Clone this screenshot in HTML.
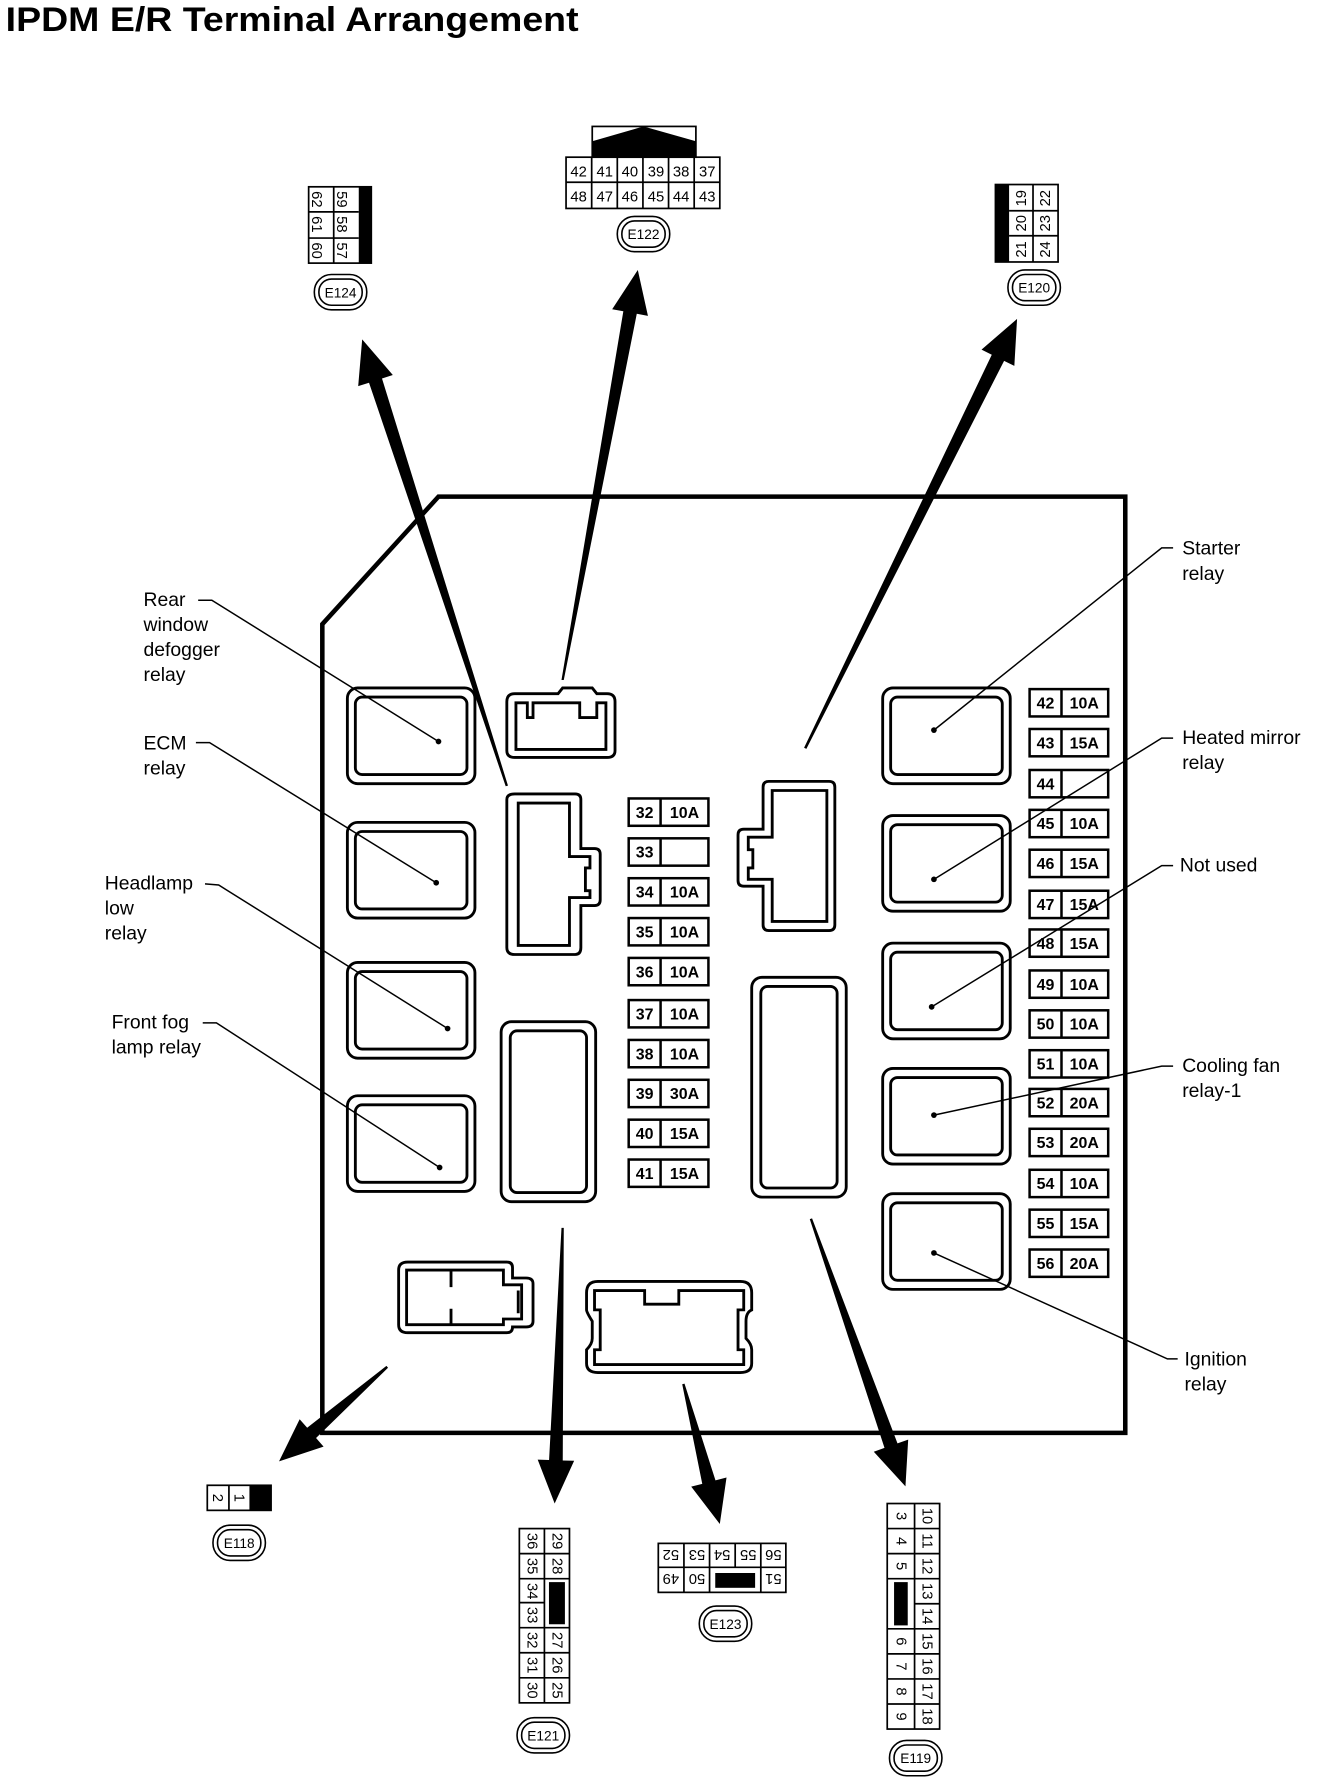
<!DOCTYPE html>
<html><head><meta charset="utf-8"><style>
html,body{margin:0;padding:0;background:#fff;}
svg{display:block;}
text{font-family:"Liberation Sans",sans-serif;fill:#000;}
.lb{font-size:17px;}
.fz{font-size:14px;font-weight:bold;text-anchor:middle;}
.cn{font-size:13px;text-anchor:middle;}
.el{font-size:12px;text-anchor:middle;}
</style></head><body>
<svg width="1328" height="1786" viewBox="0 0 1166 1568" preserveAspectRatio="none" xmlns="http://www.w3.org/2000/svg">
<text x="5" y="27" style="font-size:30px;font-weight:bold" textLength="503" lengthAdjust="spacingAndGlyphs">IPDM E/R Terminal Arrangement</text>

<path d="M385,436 H988 V1258 H283 V548 Z" fill="none" stroke="#000" stroke-width="4"/>

<g fill="none" stroke="#000">
<g stroke-width="2.5">
<rect x="305" y="604" width="112" height="84" rx="9"/><rect x="312" y="612" width="98" height="68" rx="6"/>
<rect x="305" y="722" width="112" height="84" rx="9"/><rect x="312" y="730" width="98" height="68" rx="6"/>
<rect x="305" y="845" width="112" height="84" rx="9"/><rect x="312" y="853" width="98" height="68" rx="6"/>
<rect x="305" y="962" width="112" height="84" rx="9"/><rect x="312" y="970" width="98" height="68" rx="6"/>
<rect x="775" y="604" width="112" height="84" rx="9"/><rect x="782" y="612" width="98" height="68" rx="6"/>
<rect x="775" y="716" width="112" height="84" rx="9"/><rect x="782" y="724" width="98" height="68" rx="6"/>
<rect x="775" y="828" width="112" height="84" rx="9"/><rect x="782" y="836" width="98" height="68" rx="6"/>
<rect x="775" y="938" width="112" height="84" rx="9"/><rect x="782" y="946" width="98" height="68" rx="6"/>
<rect x="775" y="1048" width="112" height="84" rx="9"/><rect x="782" y="1056" width="98" height="68" rx="6"/>
<rect x="440" y="897" width="83" height="158" rx="9"/><rect x="448" y="905" width="67" height="142" rx="6"/>
<rect x="660" y="858" width="83" height="193" rx="9"/><rect x="668" y="866" width="67" height="177" rx="6"/>
<path d="M452,609 H490 L494,604 H520 L524,609 H533 Q540,609 540,616 V659 Q540,665 533,665 H452 Q445,665 445,659 V616 Q445,609 452,609 Z"/>
<path d="M453,617 V658 H532 V617 H524 V630 H509 V617 H468 V630 H463 V617 Z"/>
<path d="M452,697 H505 Q510,697 510,702 V745 H522 Q527,745 527,750 V790 Q527,795 522,795 H510 V832 Q510,838 505,838 H452 Q445,838 445,832 V702 Q445,697 452,697 Z"/>
<path d="M455,705 H500 V752 H518 V762 H514 V782 H518 V788 H500 V830 H455 Z"/>
<path d="M675,686 H728 Q733,686 733,691 V812 Q733,817 728,817 H675 Q670,817 670,812 V778 H653 Q648,778 648,773 V733 Q648,728 653,728 H670 V691 Q670,686 675,686 Z"/>
<path d="M678,694 H726 V809 H678 V772 H657 V762 H661 V746 H657 V735 H678 Z"/>
<path d="M358,1108 H445 Q450,1108 450,1113 V1122 H462 Q468,1122 468,1127 V1160 Q468,1165 462,1165 H450 Q450,1170 445,1170 H358 Q350,1170 350,1163 V1115 Q350,1108 358,1108 Z"/>
<path d="M357,1115 H442 V1128 H458 V1158 H442 V1163 H357 Z"/>
<path d="M396,1116 V1130 M396,1149 V1163 M455,1133 V1153"/>
<path d="M525,1125 H650 Q660,1125 660,1135 V1150 Q655,1152 655,1160 V1175 Q660,1180 660,1185 V1197 Q660,1205 650,1205 H525 Q515,1205 515,1197 V1185 Q520,1180 520,1175 V1160 Q515,1152 515,1150 V1135 Q515,1125 525,1125 Z"/>
<path d="M522,1133 H566 V1145 H596 V1133 H653 V1150 H648 V1185 H653 V1198 H522 V1185 H527 V1150 H522 Z"/>
</g>

<g stroke-width="2.2">
<rect x="552" y="701" width="70" height="24"/><line x1="580" y1="701" x2="580" y2="725"/>
<rect x="552" y="736" width="70" height="24"/><line x1="580" y1="736" x2="580" y2="760"/>
<rect x="552" y="771" width="70" height="24"/><line x1="580" y1="771" x2="580" y2="795"/>
<rect x="552" y="806" width="70" height="24"/><line x1="580" y1="806" x2="580" y2="830"/>
<rect x="552" y="841" width="70" height="24"/><line x1="580" y1="841" x2="580" y2="865"/>
<rect x="552" y="878" width="70" height="24"/><line x1="580" y1="878" x2="580" y2="902"/>
<rect x="552" y="913" width="70" height="24"/><line x1="580" y1="913" x2="580" y2="937"/>
<rect x="552" y="948" width="70" height="24"/><line x1="580" y1="948" x2="580" y2="972"/>
<rect x="552" y="983" width="70" height="24"/><line x1="580" y1="983" x2="580" y2="1007"/>
<rect x="552" y="1018" width="70" height="24"/><line x1="580" y1="1018" x2="580" y2="1042"/>
<rect x="904" y="605" width="69" height="24"/><line x1="932" y1="605" x2="932" y2="629"/>
<rect x="904" y="640" width="69" height="24"/><line x1="932" y1="640" x2="932" y2="664"/>
<rect x="904" y="676" width="69" height="24"/><line x1="932" y1="676" x2="932" y2="700"/>
<rect x="904" y="711" width="69" height="24"/><line x1="932" y1="711" x2="932" y2="735"/>
<rect x="904" y="746" width="69" height="24"/><line x1="932" y1="746" x2="932" y2="770"/>
<rect x="904" y="782" width="69" height="24"/><line x1="932" y1="782" x2="932" y2="806"/>
<rect x="904" y="816" width="69" height="24"/><line x1="932" y1="816" x2="932" y2="840"/>
<rect x="904" y="852" width="69" height="24"/><line x1="932" y1="852" x2="932" y2="876"/>
<rect x="904" y="887" width="69" height="24"/><line x1="932" y1="887" x2="932" y2="911"/>
<rect x="904" y="922" width="69" height="24"/><line x1="932" y1="922" x2="932" y2="946"/>
<rect x="904" y="956" width="69" height="24"/><line x1="932" y1="956" x2="932" y2="980"/>
<rect x="904" y="991" width="69" height="24"/><line x1="932" y1="991" x2="932" y2="1015"/>
<rect x="904" y="1027" width="69" height="24"/><line x1="932" y1="1027" x2="932" y2="1051"/>
<rect x="904" y="1062" width="69" height="24"/><line x1="932" y1="1062" x2="932" y2="1086"/>
<rect x="904" y="1097" width="69" height="24"/><line x1="932" y1="1097" x2="932" y2="1121"/>
</g>

<g stroke-width="1.3">
<polyline points="174,527 186,527 385,651"/>
<polyline points="172,652 184,652 383,775"/>
<polyline points="180,776 192,777 393,903"/>
<polyline points="178,898 190,898 386,1025"/>
<polyline points="1030,481 1020,481 820,641"/>
<polyline points="1030,648 1020,648 820,772"/>
<polyline points="1030,760 1020,760 818,884"/>
<polyline points="1030,936 1020,936 820,979"/>
<polyline points="1034,1193 1025,1193 820,1100"/>
</g>
</g>

<g fill="#000">
<circle cx="385" cy="651" r="2.5"/><circle cx="383" cy="775" r="2.5"/><circle cx="393" cy="903" r="2.5"/><circle cx="386" cy="1025" r="2.5"/>
<circle cx="820" cy="641" r="2.5"/><circle cx="820" cy="772" r="2.5"/><circle cx="818" cy="884" r="2.5"/><circle cx="820" cy="979" r="2.5"/><circle cx="820" cy="1100" r="2.5"/>
<polygon points="444,690.3 324,336 314.5,339 318,298 344.9,329.2 335.4,332.3 446,689.7"/>
<polygon points="493,597 547.3,273.3 537.5,271.5 560,237 568.9,277.3 559.1,275.5 495,597"/>
<polygon points="706,656.5 870.8,311.4 861.8,307 893,280 890.6,321.2 881.6,316.8 708,657.5"/>
<polygon points="339.3,1199.2 269.7,1253.5 263.1,1246 245,1283 284.1,1270 277.5,1262.5 340.7,1200.8"/>
<polygon points="493,1078 482.1,1281.8 472.1,1281.5 487,1320 504.1,1282.5 494.1,1282.2 495,1078"/>
<polygon points="599,1215.3 616.6,1302.7 606.9,1305.2 632,1338 637.9,1297.2 628.2,1299.7 601,1214.7"/>
<polygon points="711,1070.3 776.6,1271.2 767.2,1274.5 795,1305 797.4,1263.9 788,1267.2 713,1069.7"/>
</g>

<g class="fz">
<text x="566" y="718" class="fz">32</text><text x="601" y="718" class="fz">10A</text>
<text x="566" y="753" class="fz">33</text>
<text x="566" y="788" class="fz">34</text><text x="601" y="788" class="fz">10A</text>
<text x="566" y="823" class="fz">35</text><text x="601" y="823" class="fz">10A</text>
<text x="566" y="858" class="fz">36</text><text x="601" y="858" class="fz">10A</text>
<text x="566" y="895" class="fz">37</text><text x="601" y="895" class="fz">10A</text>
<text x="566" y="930" class="fz">38</text><text x="601" y="930" class="fz">10A</text>
<text x="566" y="965" class="fz">39</text><text x="601" y="965" class="fz">30A</text>
<text x="566" y="1000" class="fz">40</text><text x="601" y="1000" class="fz">15A</text>
<text x="566" y="1035" class="fz">41</text><text x="601" y="1035" class="fz">15A</text>
<text x="918" y="622" class="fz">42</text><text x="952" y="622" class="fz">10A</text>
<text x="918" y="657" class="fz">43</text><text x="952" y="657" class="fz">15A</text>
<text x="918" y="693" class="fz">44</text>
<text x="918" y="728" class="fz">45</text><text x="952" y="728" class="fz">10A</text>
<text x="918" y="763" class="fz">46</text><text x="952" y="763" class="fz">15A</text>
<text x="918" y="799" class="fz">47</text><text x="952" y="799" class="fz">15A</text>
<text x="918" y="833" class="fz">48</text><text x="952" y="833" class="fz">15A</text>
<text x="918" y="869" class="fz">49</text><text x="952" y="869" class="fz">10A</text>
<text x="918" y="904" class="fz">50</text><text x="952" y="904" class="fz">10A</text>
<text x="918" y="939" class="fz">51</text><text x="952" y="939" class="fz">10A</text>
<text x="918" y="973" class="fz">52</text><text x="952" y="973" class="fz">20A</text>
<text x="918" y="1008" class="fz">53</text><text x="952" y="1008" class="fz">20A</text>
<text x="918" y="1044" class="fz">54</text><text x="952" y="1044" class="fz">10A</text>
<text x="918" y="1079" class="fz">55</text><text x="952" y="1079" class="fz">15A</text>
<text x="918" y="1114" class="fz">56</text><text x="952" y="1114" class="fz">20A</text>
</g>

<g class="lb">
<text x="126" y="532" class="lb">Rear</text><text x="126" y="554" class="lb">window</text><text x="126" y="576" class="lb">defogger</text><text x="126" y="598" class="lb">relay</text>
<text x="126" y="658" class="lb">ECM</text><text x="126" y="680" class="lb">relay</text>
<text x="92" y="781" class="lb">Headlamp</text><text x="92" y="803" class="lb">low</text><text x="92" y="825" class="lb">relay</text>
<text x="98" y="903" class="lb">Front fog</text><text x="98" y="925" class="lb">lamp relay</text>
<text x="1038" y="487" class="lb">Starter</text><text x="1038" y="509" class="lb">relay</text>
<text x="1038" y="653" class="lb">Heated mirror</text><text x="1038" y="675" class="lb">relay</text>
<text x="1036" y="765" class="lb">Not used</text>
<text x="1038" y="941" class="lb">Cooling fan</text><text x="1038" y="963" class="lb">relay-1</text>
<text x="1040" y="1199" class="lb">Ignition</text><text x="1040" y="1221" class="lb">relay</text>
</g>

<g fill="none" stroke="#000" stroke-width="1.5">
<rect x="271" y="164" width="55" height="67"/>
<line x1="293" y1="164" x2="293" y2="231"/>
<line x1="271" y1="186" x2="315" y2="186"/><line x1="271" y1="209" x2="315" y2="209"/>
</g>
<rect x="315" y="164" width="11" height="67" fill="#000"/>
<g class="cn">
<text transform="translate(278,175) rotate(90)" class="cn" y="4">62</text>
<text transform="translate(278,197) rotate(90)" class="cn" y="4">61</text>
<text transform="translate(278,220) rotate(90)" class="cn" y="4">60</text>
<text transform="translate(300,175) rotate(90)" class="cn" y="4">59</text>
<text transform="translate(300,197) rotate(90)" class="cn" y="4">58</text>
<text transform="translate(300,220) rotate(90)" class="cn" y="4">57</text>
</g>

<rect x="520" y="111" width="91" height="27" fill="none" stroke="#000" stroke-width="1.5"/>
<polygon points="520,138 520,124 565,111 611,124 611,138" fill="#000"/>
<g fill="none" stroke="#000" stroke-width="1.5">
<rect x="497" y="138" width="135" height="45"/>
<line x1="497" y1="160" x2="632" y2="160"/>
<line x1="519.5" y1="138" x2="519.5" y2="183"/><line x1="542" y1="138" x2="542" y2="183"/><line x1="564.5" y1="138" x2="564.5" y2="183"/><line x1="587" y1="138" x2="587" y2="183"/><line x1="609.5" y1="138" x2="609.5" y2="183"/>
</g>
<g class="cn">
<text x="508" y="155" class="cn">42</text><text x="531" y="155" class="cn">41</text><text x="553" y="155" class="cn">40</text><text x="576" y="155" class="cn">39</text><text x="598" y="155" class="cn">38</text><text x="621" y="155" class="cn">37</text>
<text x="508" y="177" class="cn">48</text><text x="531" y="177" class="cn">47</text><text x="553" y="177" class="cn">46</text><text x="576" y="177" class="cn">45</text><text x="598" y="177" class="cn">44</text><text x="621" y="177" class="cn">43</text>
</g>

<rect x="874" y="162" width="12" height="68" fill="#000"/>
<g fill="none" stroke="#000" stroke-width="1.5">
<rect x="874" y="162" width="55" height="68"/>
<line x1="907" y1="162" x2="907" y2="230"/>
<line x1="886" y1="185" x2="929" y2="185"/><line x1="886" y1="207" x2="929" y2="207"/>
</g>
<g class="cn">
<text transform="translate(897,174) rotate(-90)" class="cn" y="4">19</text>
<text transform="translate(897,196) rotate(-90)" class="cn" y="4">20</text>
<text transform="translate(897,219) rotate(-90)" class="cn" y="4">21</text>
<text transform="translate(918,174) rotate(-90)" class="cn" y="4">22</text>
<text transform="translate(918,196) rotate(-90)" class="cn" y="4">23</text>
<text transform="translate(918,219) rotate(-90)" class="cn" y="4">24</text>
</g>

<rect x="219" y="1304" width="19" height="22" fill="#000"/>
<g fill="none" stroke="#000" stroke-width="1.5">
<rect x="182" y="1304" width="56" height="22"/><line x1="201" y1="1304" x2="201" y2="1326"/>
</g>
<text transform="translate(191,1315) rotate(90)" class="cn" y="4">2</text>
<text transform="translate(210,1315) rotate(90)" class="cn" y="4">1</text>

<g fill="none" stroke="#000" stroke-width="1.5">
<rect x="456" y="1342" width="44" height="153"/>
<line x1="478" y1="1342" x2="478" y2="1495"/>
<line x1="456" y1="1364" x2="500" y2="1364"/><line x1="456" y1="1386" x2="500" y2="1386"/>
<line x1="456" y1="1407" x2="478" y2="1407"/>
<line x1="456" y1="1429" x2="500" y2="1429"/><line x1="456" y1="1451" x2="500" y2="1451"/><line x1="456" y1="1473" x2="500" y2="1473"/>
</g>
<rect x="482" y="1389" width="14" height="37" fill="#000"/>
<g class="cn">
<text transform="translate(467,1353) rotate(90)" class="cn" y="4">36</text>
<text transform="translate(467,1375) rotate(90)" class="cn" y="4">35</text>
<text transform="translate(467,1397) rotate(90)" class="cn" y="4">34</text>
<text transform="translate(467,1418) rotate(90)" class="cn" y="4">33</text>
<text transform="translate(467,1440) rotate(90)" class="cn" y="4">32</text>
<text transform="translate(467,1462) rotate(90)" class="cn" y="4">31</text>
<text transform="translate(467,1484) rotate(90)" class="cn" y="4">30</text>
<text transform="translate(489,1353) rotate(90)" class="cn" y="4">29</text>
<text transform="translate(489,1375) rotate(90)" class="cn" y="4">28</text>
<text transform="translate(489,1440) rotate(90)" class="cn" y="4">27</text>
<text transform="translate(489,1462) rotate(90)" class="cn" y="4">26</text>
<text transform="translate(489,1484) rotate(90)" class="cn" y="4">25</text>
</g>

<g fill="none" stroke="#000" stroke-width="1.5">
<rect x="578" y="1355" width="112" height="43"/>
<line x1="578" y1="1376" x2="690" y2="1376"/>
<line x1="600.5" y1="1355" x2="600.5" y2="1398"/><line x1="623" y1="1355" x2="623" y2="1398"/>
<line x1="645.5" y1="1355" x2="645.5" y2="1376"/><line x1="668" y1="1355" x2="668" y2="1398"/>
</g>
<rect x="628" y="1381" width="35" height="13" fill="#000"/>
<g class="cn">
<text transform="translate(589,1366) rotate(180)" class="cn" y="5">52</text>
<text transform="translate(612,1366) rotate(180)" class="cn" y="5">53</text>
<text transform="translate(634,1366) rotate(180)" class="cn" y="5">54</text>
<text transform="translate(657,1366) rotate(180)" class="cn" y="5">55</text>
<text transform="translate(679,1366) rotate(180)" class="cn" y="5">56</text>
<text transform="translate(589,1387) rotate(180)" class="cn" y="5">49</text>
<text transform="translate(612,1387) rotate(180)" class="cn" y="5">50</text>
<text transform="translate(679,1387) rotate(180)" class="cn" y="5">51</text>
</g>

<g fill="none" stroke="#000" stroke-width="1.5">
<rect x="779" y="1320" width="46" height="198"/>
<line x1="803" y1="1320" x2="803" y2="1518"/>
<line x1="779" y1="1342" x2="825" y2="1342"/><line x1="779" y1="1364" x2="825" y2="1364"/><line x1="779" y1="1386" x2="825" y2="1386"/>
<line x1="803" y1="1408" x2="825" y2="1408"/>
<line x1="779" y1="1430" x2="825" y2="1430"/><line x1="779" y1="1452" x2="825" y2="1452"/><line x1="779" y1="1474" x2="825" y2="1474"/><line x1="779" y1="1496" x2="825" y2="1496"/>
</g>
<rect x="785" y="1389" width="12" height="38" fill="#000"/>
<g class="cn">
<text transform="translate(791,1331) rotate(90)" class="cn" y="4">3</text>
<text transform="translate(791,1353) rotate(90)" class="cn" y="4">4</text>
<text transform="translate(791,1375) rotate(90)" class="cn" y="4">5</text>
<text transform="translate(791,1441) rotate(90)" class="cn" y="4">6</text>
<text transform="translate(791,1463) rotate(90)" class="cn" y="4">7</text>
<text transform="translate(791,1485) rotate(90)" class="cn" y="4">8</text>
<text transform="translate(791,1507) rotate(90)" class="cn" y="4">9</text>
<text transform="translate(814,1331) rotate(90)" class="cn" y="4">10</text>
<text transform="translate(814,1353) rotate(90)" class="cn" y="4">11</text>
<text transform="translate(814,1375) rotate(90)" class="cn" y="4">12</text>
<text transform="translate(814,1397) rotate(90)" class="cn" y="4">13</text>
<text transform="translate(814,1419) rotate(90)" class="cn" y="4">14</text>
<text transform="translate(814,1441) rotate(90)" class="cn" y="4">15</text>
<text transform="translate(814,1463) rotate(90)" class="cn" y="4">16</text>
<text transform="translate(814,1485) rotate(90)" class="cn" y="4">17</text>
<text transform="translate(814,1507) rotate(90)" class="cn" y="4">18</text>
</g>

<g fill="none" stroke="#000" stroke-width="1.4">
<rect x="276" y="241" width="46" height="31" rx="15"/><rect x="280" y="245" width="38" height="23" rx="11"/>
<rect x="542" y="190" width="46" height="31" rx="15"/><rect x="546" y="194" width="38" height="23" rx="11"/>
<rect x="885" y="237" width="46" height="31" rx="15"/><rect x="889" y="241" width="38" height="23" rx="11"/>
<rect x="187" y="1339" width="46" height="31" rx="15"/><rect x="191" y="1343" width="38" height="23" rx="11"/>
<rect x="454" y="1508" width="46" height="31" rx="15"/><rect x="458" y="1512" width="38" height="23" rx="11"/>
<rect x="614" y="1410" width="46" height="31" rx="15"/><rect x="618" y="1414" width="38" height="23" rx="11"/>
<rect x="781" y="1528" width="46" height="31" rx="15"/><rect x="785" y="1532" width="38" height="23" rx="11"/>
</g>
<g class="el">
<text x="299" y="261" class="el">E124</text>
<text x="565" y="210" class="el">E122</text>
<text x="908" y="257" class="el">E120</text>
<text x="210" y="1359" class="el">E118</text>
<text x="477" y="1528" class="el">E121</text>
<text x="637" y="1430" class="el">E123</text>
<text x="804" y="1548" class="el">E119</text>
</g>
</svg>
</body></html>
